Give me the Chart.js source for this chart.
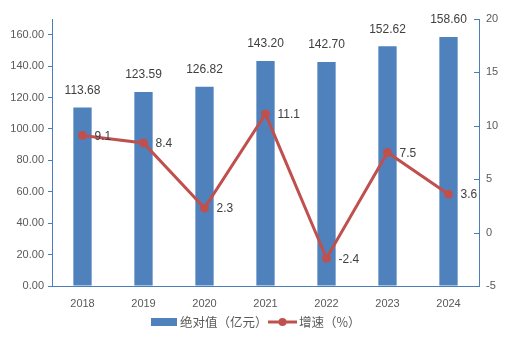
<!DOCTYPE html>
<html>
<head>
<meta charset="utf-8">
<script src="https://cdn.jsdelivr.net/npm/chart.js@4/dist/chart.umd.min.js"></script>
<style>
  body { margin: 0; background: #ffffff; }
  #wrap { width: 508px; height: 347px; }
</style>
</head>
<body>
<div id="wrap"><canvas id="chart"></canvas></div>
<script>
// Data
const years = ['2018', '2019', '2020', '2021', '2022', '2023', '2024'];
const absValues = [113.68, 123.59, 126.82, 143.20, 142.70, 152.62, 158.60];
const growthRates = [9.1, 8.4, 2.3, 11.1, -2.4, 7.5, 3.6];
const barLabel = '绝对值（亿元）';
const lineLabel = '增速（%）';

const BAR_COLOR = '#4F81BD';
const LINE_COLOR = '#C0504D';
const AXIS_COLOR = '#4A7EBB';
const TEXT_COLOR = '#595959';
const LABEL_COLOR = '#404040';
const FONT = "'Liberation Sans', Arial, sans-serif";
const CJK_FONT = "'Noto Sans CJK SC', sans-serif";

// value labels + legend + inward ticks on the right axis
const extrasPlugin = {
    id: 'extras',
    afterDatasetsDraw(chart) {
        const ctx = chart.ctx;
        ctx.save();
        ctx.fillStyle = LABEL_COLOR;
        ctx.font = '12px ' + FONT;

        const barMeta = chart.getDatasetMeta(1);
        ctx.textAlign = 'center';
        ctx.textBaseline = 'bottom';
        barMeta.data.forEach((el, i) => {
            ctx.fillText(absValues[i].toFixed(2), el.x, el.y - 11);
        });

        const lineMeta = chart.getDatasetMeta(0);
        ctx.textAlign = 'left';
        ctx.textBaseline = 'middle';
        lineMeta.data.forEach((el, i) => {
            ctx.fillText(growthRates[i].toFixed(1), el.x + 12, el.y + 1);
        });
        ctx.restore();
    },
    afterDraw(chart) {
        const ctx = chart.ctx;
        const area = chart.chartArea;
        const y1 = chart.scales.y1;
        ctx.save();

        // right axis tick marks (inside)
        ctx.strokeStyle = AXIS_COLOR;
        ctx.lineWidth = 1;
        y1.ticks.forEach(t => {
            const y = Math.round(y1.getPixelForValue(t.value)) + 0.5;
            ctx.beginPath();
            ctx.moveTo(area.right - 5, y);
            ctx.lineTo(area.right, y);
            ctx.stroke();
        });

        // legend
        const ly = 322;
        ctx.fillStyle = BAR_COLOR;
        ctx.fillRect(151, ly - 4, 26, 8);
        ctx.fillStyle = TEXT_COLOR;
        ctx.font = '12.5px ' + CJK_FONT;
        ctx.textAlign = 'left';
        ctx.textBaseline = 'middle';
        ctx.fillText(barLabel, 180, ly);

        ctx.strokeStyle = LINE_COLOR;
        ctx.lineWidth = 3;
        ctx.beginPath();
        ctx.moveTo(268, ly);
        ctx.lineTo(297, ly);
        ctx.stroke();
        ctx.fillStyle = LINE_COLOR;
        ctx.beginPath();
        ctx.arc(282.5, ly, 4, 0, Math.PI * 2);
        ctx.fill();
        ctx.fillStyle = TEXT_COLOR;
        ctx.fillText(lineLabel, 299, ly);

        ctx.restore();
    }
};

const ctx = document.getElementById('chart').getContext('2d');

const chart = new Chart(ctx, {
    data: {
        labels: years,
        datasets: [{
            type: 'line',
            label: lineLabel,
            data: growthRates,
            yAxisID: 'y1',
            borderColor: LINE_COLOR,
            backgroundColor: LINE_COLOR,
            borderWidth: 3,
            pointRadius: 4.5,
            pointBackgroundColor: LINE_COLOR,
            pointBorderWidth: 0,
            tension: 0,
            order: 0
        }, {
            type: 'bar',
            label: barLabel,
            data: absValues,
            yAxisID: 'y',
            backgroundColor: BAR_COLOR,
            barPercentage: 0.3,
            categoryPercentage: 1.0,
            order: 1
        }]
    },
    options: {
        responsive: true,
        maintainAspectRatio: false,
        animation: false,
        layout: { padding: { top: 19 } },
        scales: {
            x: {
                grid: { display: false, drawTicks: false },
                border: { display: true, color: AXIS_COLOR },
                ticks: {
                    color: TEXT_COLOR,
                    padding: 11,
                    font: { family: FONT, size: 11 }
                },
                afterFit: s => { s.height = 61; }
            },
            y: {
                position: 'left',
                min: 0,
                max: 170,
                grid: {
                    drawOnChartArea: false,
                    color: AXIS_COLOR,
                    tickLength: 4
                },
                border: { display: true, color: AXIS_COLOR },
                ticks: {
                    stepSize: 20,
                    color: TEXT_COLOR,
                    padding: 4,
                    font: { family: FONT, size: 11 },
                    callback: v => v.toFixed(2)
                },
                afterBuildTicks: s => { s.ticks = s.ticks.filter(t => t.value <= 160); },
                afterFit: s => { s.width = 52; }
            },
            y1: {
                position: 'right',
                min: -5,
                max: 20,
                grid: { drawOnChartArea: false, drawTicks: false },
                border: { display: true, color: AXIS_COLOR },
                ticks: {
                    stepSize: 5,
                    color: TEXT_COLOR,
                    padding: 7,
                    font: { family: FONT, size: 11 }
                },
                afterFit: s => { s.width = 29; }
            }
        },
        plugins: {
            legend: { display: false },
            tooltip: { enabled: false }
        }
    },
    plugins: [extrasPlugin]
});
</script>
</body>
</html>
